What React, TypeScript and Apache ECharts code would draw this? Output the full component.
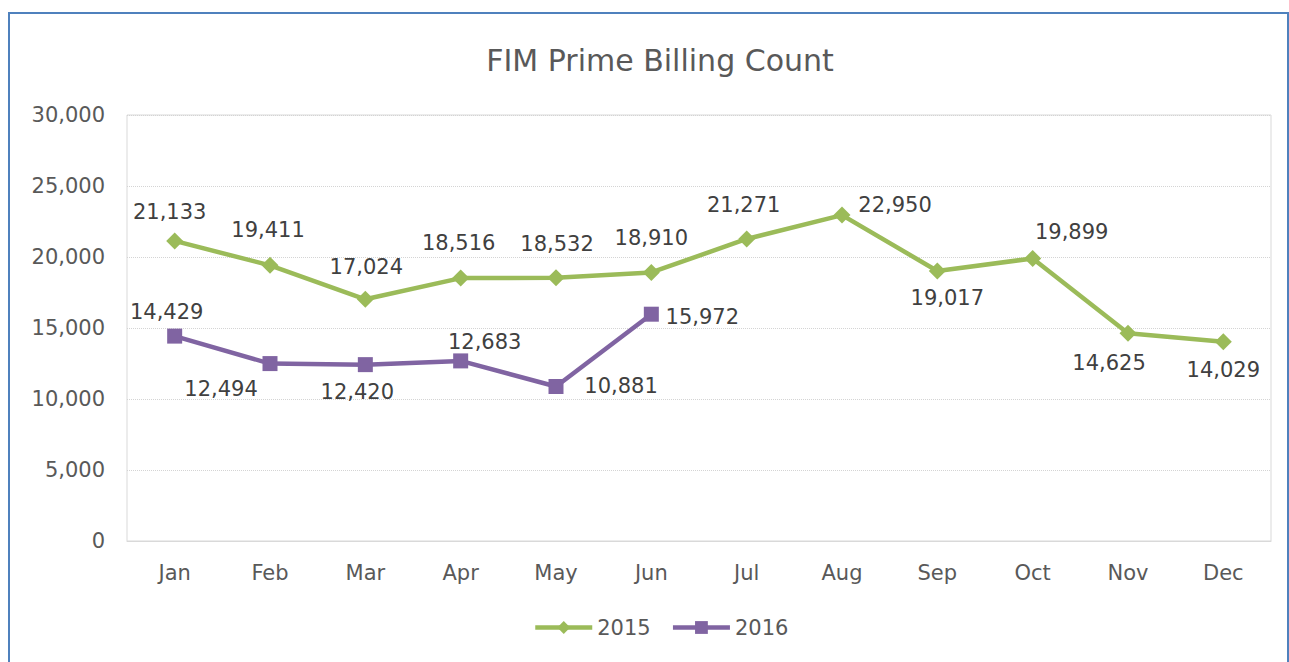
import React, { useEffect, useRef } from "react";
import * as echarts from "echarts";

const months = ["Jan", "Feb", "Mar", "Apr", "May", "Jun", "Jul", "Aug", "Sep", "Oct", "Nov", "Dec"];
const values2015 = [21133, 19411, 17024, 18516, 18532, 18910, 21271, 22950, 19017, 19899, 14625, 14029];
const values2016 = [14429, 12494, 12420, 12683, 10881, 15972];
const yTicks = [0, 5000, 10000, 15000, 20000, 25000, 30000];

// label offsets (dx, dy) from each point's centre
const labelOffsets2015 = [
  [-5, -29], [-2, -35], [1, -32], [-2, -35], [1, -34], [0, -34],
  [-3, -34], [53, -10], [10, 27], [39, -26], [-19, 30], [0, 28],
];
const labelOffsets2016 = [[-8, -24], [-49, 25], [-8, 27], [24, -19], [65, 0], [51, 3]];

const FONT = "'DejaVu Sans', sans-serif";
const fmt = (v: number) => v.toLocaleString("en-US");

export default function App() {
  const ref = useRef<HTMLDivElement>(null);
  useEffect(() => {
    if (!ref.current) return;
    const chart = echarts.init(ref.current, null, { renderer: "svg" });
    const mk = (vals: number[], offs: number[][]) =>
      vals.map((v, i) => ({
        value: v,
        label: { offset: offs[i] },
      }));
    chart.setOption({
      animation: false,
      backgroundColor: "#ffffff",
      title: {
        text: "FIM Prime Billing Count",
        left: 655,
        textAlign: "center",
        top: 40,
        textStyle: { fontFamily: FONT, fontSize: 30, fontWeight: "normal", color: "#595959" },
      },
      graphic: [
        {
          type: "rect",
          shape: { x: 9, y: 13, width: 1279, height: 700 },
          style: { fill: "none", stroke: "#4F81BD", lineWidth: 2 },
          silent: true,
        },
      ],
      legend: {
        top: 612,
        left: 528,
        itemWidth: 57,
        itemHeight: 16,
        itemGap: 20,
        lineStyle: { width: 4.5 },
        textStyle: { fontFamily: FONT, fontSize: 21, color: "#595959" },
        data: ["2015", "2016"],
      },
      grid: {
        left: 127,
        right: 18,
        top: 115,
        bottom: 121,
        show: true,
        borderColor: "#d9d9d9",
        borderWidth: 1,
      },
      xAxis: {
        type: "category",
        data: months,
        boundaryGap: true,
        axisLine: { show: true, lineStyle: { color: "#d9d9d9" } },
        axisTick: { show: false },
        axisLabel: { fontFamily: FONT, fontSize: 21, color: "#595959", margin: 21 },
      },
      yAxis: {
        type: "value",
        min: yTicks[0],
        max: yTicks[yTicks.length - 1],
        interval: 5000,
        axisLine: { show: false },
        axisTick: { show: false },
        splitLine: { lineStyle: { color: "#d4d4d4", type: "dotted", width: 1 } },
        axisLabel: {
          fontFamily: FONT,
          fontSize: 21,
          color: "#595959",
          margin: 22,
          formatter: (v: number) => fmt(v),
        },
      },
      series: [
        {
          name: "2015",
          type: "line",
          data: mk(values2015, labelOffsets2015),
          color: "#9BBB59",
          symbol: "diamond",
          symbolSize: 17,
          lineStyle: { width: 4.5, color: "#9BBB59" },
          itemStyle: { color: "#9BBB59" },
          label: {
            show: true,
            position: "inside",
            fontFamily: FONT,
            fontSize: 21,
            color: "#404040",
            formatter: (p: any) => fmt(p.value),
          },
          z: 3,
        },
        {
          name: "2016",
          type: "line",
          data: mk(values2016, labelOffsets2016),
          color: "#8064A2",
          symbol: "rect",
          symbolSize: 15,
          lineStyle: { width: 4.5, color: "#8064A2" },
          itemStyle: { color: "#8064A2" },
          label: {
            show: true,
            position: "inside",
            fontFamily: FONT,
            fontSize: 21,
            color: "#404040",
            formatter: (p: any) => fmt(p.value),
          },
          z: 4,
        },
      ],
    });
    return () => chart.dispose();
  }, []);
  return (
    <div
      ref={ref}
      style={{ position: "absolute", left: 0, top: 0, width: 1289, height: 662 }}
    />
  );
}
